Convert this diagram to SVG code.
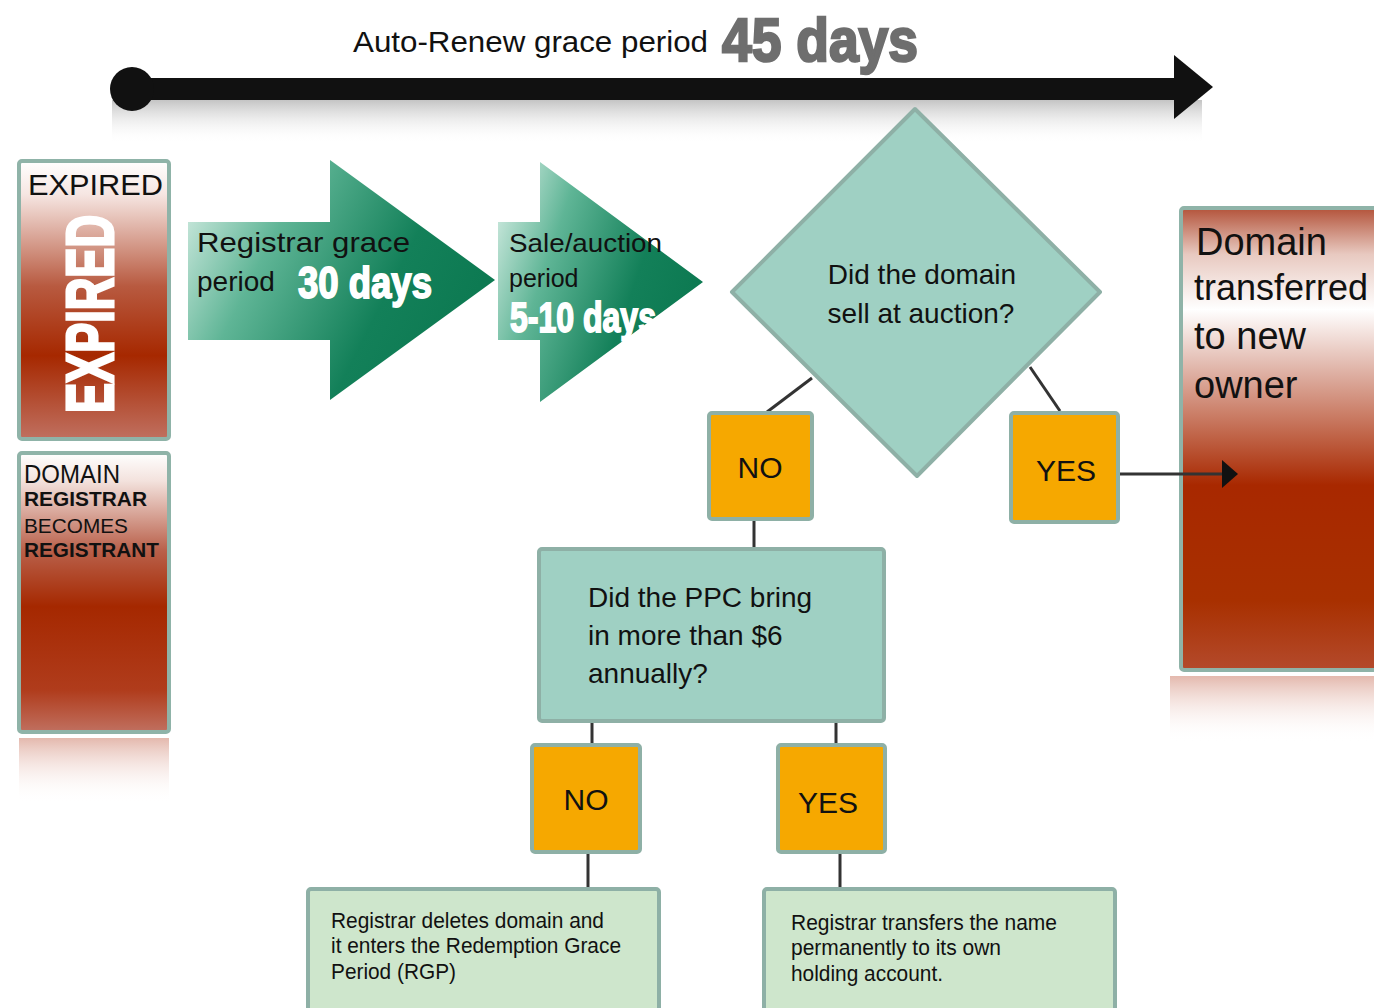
<svg xmlns="http://www.w3.org/2000/svg" width="1374" height="1008" viewBox="0 0 1374 1008">
<defs>
<style>
.t{font-family:"Liberation Sans",Arial,sans-serif;fill:#111}
.b{font-weight:bold}
.w{fill:#fff;stroke:#fff;font-weight:bold;font-family:"Liberation Sans",Arial,sans-serif}
.box{stroke:#8fb3a8;stroke-width:4}
.ln{stroke:#333;stroke-width:3;fill:none}
.teal{fill:#9fd0c3;stroke:#8eb0a6;stroke-width:4}
.org{fill:#f6a800;stroke:#8eb0a6;stroke-width:4}
.lg{fill:#cee6cc;stroke:#8eb0a6;stroke-width:4}
</style>
<linearGradient id="red1" x1="0" y1="0" x2="0" y2="1">
<stop offset="0" stop-color="#ffffff"/>
<stop offset="0.12" stop-color="#f6e6e2"/>
<stop offset="0.45" stop-color="#b85a40"/>
<stop offset="0.7" stop-color="#a62800"/>
<stop offset="1" stop-color="#c07060"/>
</linearGradient>
<linearGradient id="red2" x1="0" y1="0" x2="0" y2="1">
<stop offset="0" stop-color="#ffffff"/>
<stop offset="0.1" stop-color="#f3e2dd"/>
<stop offset="0.35" stop-color="#b9604a"/>
<stop offset="0.55" stop-color="#a52800"/>
<stop offset="0.85" stop-color="#b03c1c"/>
<stop offset="1" stop-color="#c07060"/>
</linearGradient>
<linearGradient id="red3" x1="0" y1="0" x2="0" y2="1">
<stop offset="0" stop-color="#b3533a"/>
<stop offset="0.1" stop-color="#e8c9c0"/>
<stop offset="0.22" stop-color="#ffffff"/>
<stop offset="0.35" stop-color="#e0b4a8"/>
<stop offset="0.6" stop-color="#a82800"/>
<stop offset="0.85" stop-color="#a83000"/>
<stop offset="1" stop-color="#b44a2c"/>
</linearGradient>
<linearGradient id="refl" x1="0" y1="0" x2="0" y2="1">
<stop offset="0" stop-color="#d89a8a" stop-opacity="0.7"/>
<stop offset="1" stop-color="#ffffff" stop-opacity="0"/>
</linearGradient>
<linearGradient id="grn" x1="0" y1="0" x2="1" y2="0.4">
<stop offset="0" stop-color="#e2f3ec"/>
<stop offset="0.35" stop-color="#5fb596"/>
<stop offset="0.75" stop-color="#138059"/>
<stop offset="1" stop-color="#0d7a52"/>
</linearGradient>
<linearGradient id="shad" x1="0" y1="0" x2="0" y2="1">
<stop offset="0" stop-color="#c4c4c4"/>
<stop offset="1" stop-color="#ffffff" stop-opacity="0"/>
</linearGradient>
<marker id="ah" markerWidth="16" markerHeight="28" refX="14" refY="14" orient="auto" markerUnits="userSpaceOnUse">
<path d="M0,0 L16,14 L0,28 Z" fill="#111"/>
</marker>
</defs>
<rect width="1374" height="1008" fill="#fff"/>

<g id="timeline">
<rect x="112" y="100" width="1090" height="44" fill="url(#shad)"/>
<rect x="130" y="78" width="1050" height="22" fill="#111"/>
<circle cx="132" cy="89" r="22" fill="#111"/>
<path d="M1174,55 L1213,87 L1174,119 Z" fill="#111"/>
<text class="t" x="353" y="52" font-size="30" textLength="355" lengthAdjust="spacingAndGlyphs">Auto-Renew grace period</text>
<text x="722" y="61" font-size="62" font-weight="bold" fill="#6e6e6e" stroke="#6e6e6e" stroke-width="2.5" font-family="'Liberation Sans',Arial,sans-serif" textLength="196" lengthAdjust="spacingAndGlyphs">45 days</text>
</g>

<g id="expired">
<rect x="19" y="161" width="150" height="278" rx="3" fill="url(#red1)" class="box"/>
<text class="t" x="28" y="195" font-size="30" textLength="135" lengthAdjust="spacingAndGlyphs">EXPIRED</text>
<text class="w" transform="translate(113,413) rotate(-90)" font-size="66" stroke-width="3" textLength="198" lengthAdjust="spacingAndGlyphs">EXPIRED</text>
</g>

<g id="registrar">
<rect x="19" y="453" width="150" height="279" rx="3" fill="url(#red2)" class="box"/>
<rect x="19" y="738" width="150" height="65" fill="url(#refl)"/>
<text class="t" x="24" y="483" font-size="25" textLength="96" lengthAdjust="spacingAndGlyphs">DOMAIN</text>
<text class="t b" x="24" y="506" font-size="20" textLength="123" lengthAdjust="spacingAndGlyphs">REGISTRAR</text>
<text class="t" x="24" y="533" font-size="21" textLength="104" lengthAdjust="spacingAndGlyphs">BECOMES</text>
<text class="t b" x="24" y="557" font-size="20" textLength="135" lengthAdjust="spacingAndGlyphs">REGISTRANT</text>
</g>

<g id="grace">
<path d="M188,222 L330,222 L330,160 L495,280 L330,400 L330,340 L188,340 Z" fill="url(#grn)"/>
<text class="t" x="197" y="252" font-size="28" textLength="213" lengthAdjust="spacingAndGlyphs">Registrar grace</text>
<text class="t" x="197" y="291" font-size="28">period</text>
<text class="w" x="298" y="298" font-size="44" stroke-width="1.8" textLength="134" lengthAdjust="spacingAndGlyphs">30 days</text>
</g>

<g id="auction">
<path d="M498,222 L540,222 L540,162 L703,282 L540,402 L540,340 L498,340 Z" fill="url(#grn)"/>
<text class="t" x="509" y="252" font-size="25" textLength="153" lengthAdjust="spacingAndGlyphs">Sale/auction</text>
<text class="t" x="509" y="287" font-size="25">period</text>
<text class="w" x="510" y="332" font-size="42" stroke-width="1.8" textLength="146" lengthAdjust="spacingAndGlyphs">5-10 days</text>
</g>

<g id="transferred">
<rect x="1181" y="208" width="200" height="462" rx="3" fill="url(#red3)" class="box"/>
<rect x="1170" y="676" width="204" height="66" fill="url(#refl)"/>
<text class="t" x="1196" y="255" font-size="38">Domain</text>
<text class="t" x="1194" y="300" font-size="36">transferred</text>
<text class="t" x="1194" y="349" font-size="38">to new</text>
<text class="t" x="1194" y="398" font-size="38">owner</text>
</g>

<g id="connectors">
<line class="ln" x1="812" y1="378" x2="767" y2="412"/>
<line class="ln" x1="1030" y1="367" x2="1060" y2="411"/>
<line class="ln" x1="1120" y1="474" x2="1236" y2="474" marker-end="url(#ah)"/>
<line class="ln" x1="754" y1="520" x2="754" y2="548"/>
<line class="ln" x1="592" y1="722" x2="592" y2="744"/>
<line class="ln" x1="836" y1="722" x2="836" y2="744"/>
<line class="ln" x1="588" y1="853" x2="588" y2="889"/>
<line class="ln" x1="840" y1="853" x2="840" y2="889"/>
</g>

<g id="diamond">
<path d="M915,109 L1100,292 L917,476 L732,292 Z" class="teal" stroke-linejoin="round"/>
<text class="t" x="922" y="284" font-size="28" text-anchor="middle">Did the domain</text>
<text class="t" x="921" y="323" font-size="28" text-anchor="middle">sell at auction?</text>
</g>

<g id="no1">
<rect x="709" y="413" width="103" height="106" rx="3" class="org"/>
<text class="t" x="760" y="478" font-size="30" text-anchor="middle">NO</text>
</g>

<g id="yes1">
<rect x="1011" y="413" width="107" height="109" rx="3" class="org"/>
<text class="t" x="1066" y="481" font-size="30" text-anchor="middle">YES</text>
</g>

<g id="ppc">
<rect x="539" y="549" width="345" height="172" rx="3" class="teal"/>
<text class="t" x="588" y="607" font-size="28">Did the PPC bring</text>
<text class="t" x="588" y="645" font-size="28">in more than $6</text>
<text class="t" x="588" y="683" font-size="28">annually?</text>
</g>

<g id="no2">
<rect x="532" y="745" width="108" height="107" rx="3" class="org"/>
<text class="t" x="586" y="810" font-size="30" text-anchor="middle">NO</text>
</g>

<g id="yes2">
<rect x="778" y="745" width="107" height="107" rx="3" class="org"/>
<text class="t" x="828" y="813" font-size="30" text-anchor="middle">YES</text>
</g>

<g id="rgp">
<rect x="308" y="889" width="351" height="130" rx="3" class="lg"/>
<text class="t" x="331" y="928" font-size="22" textLength="273" lengthAdjust="spacingAndGlyphs">Registrar deletes domain and</text>
<text class="t" x="331" y="953" font-size="22" textLength="290" lengthAdjust="spacingAndGlyphs">it enters the Redemption Grace</text>
<text class="t" x="331" y="979" font-size="22" textLength="125" lengthAdjust="spacingAndGlyphs">Period (RGP)</text>
</g>

<g id="holding">
<rect x="764" y="889" width="351" height="130" rx="3" class="lg"/>
<text class="t" x="791" y="930" font-size="22" textLength="266" lengthAdjust="spacingAndGlyphs">Registrar transfers the name</text>
<text class="t" x="791" y="955" font-size="22" textLength="210" lengthAdjust="spacingAndGlyphs">permanently to its own</text>
<text class="t" x="791" y="981" font-size="22" textLength="152" lengthAdjust="spacingAndGlyphs">holding account.</text>
</g>
</svg>
